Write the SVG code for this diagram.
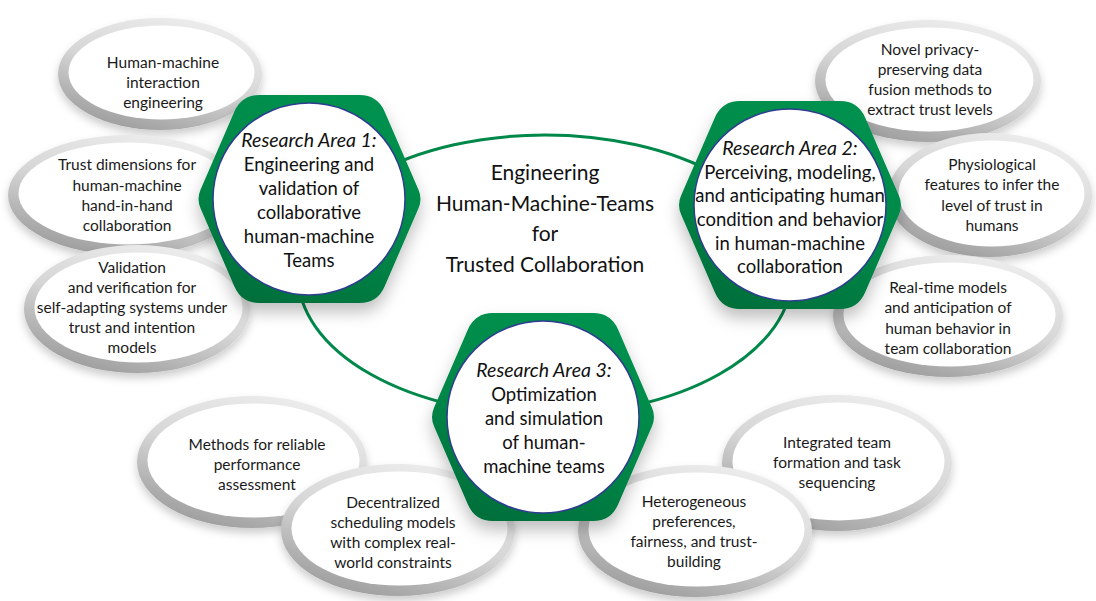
<svg xmlns="http://www.w3.org/2000/svg" width="1096" height="601" viewBox="0 0 1096 601">
  <defs>
    <linearGradient id="ringGrad" x1="0.75" y1="0" x2="0.25" y2="1">
      <stop offset="0" stop-color="#eeeeee"/>
      <stop offset="0.5" stop-color="#d6d6d6"/>
      <stop offset="1" stop-color="#9a9a9a"/>
    </linearGradient>
    <linearGradient id="hexGrad" x1="0.7" y1="0" x2="0.3" y2="1">
      <stop offset="0" stop-color="#00914f"/>
      <stop offset="0.55" stop-color="#008748"/>
      <stop offset="1" stop-color="#006f3b"/>
    </linearGradient>
    <filter id="softShadow" x="-20%" y="-20%" width="140%" height="150%">
      <feDropShadow dx="0" dy="5" stdDeviation="4" flood-color="#000" flood-opacity="0.2"/>
    </filter>
    <filter id="hexShadow" x="-20%" y="-20%" width="140%" height="150%">
      <feDropShadow dx="0" dy="9" stdDeviation="8" flood-color="#000" flood-opacity="0.25"/>
    </filter>
    <!-- rounded hexagon, centred on the origin -->
    <path id="hexShape" d="M -75.1,-87.5 Q -68,-104 -50,-104 L 50,-104 Q 68,-104 75.1,-87.5 L 109,-9.2 Q 113,0 109,9.2 L 75.1,87.5 Q 68,104 50,104 L -50,104 Q -68,104 -75.1,87.5 L -109,9.2 Q -113,0 -109,-9.2 Z"/>
    <style>
      .ring { fill: url(#ringGrad); filter: url(#softShadow); }
      .hole { fill: #ffffff; }
      .hex { fill: url(#hexGrad); filter: url(#hexShadow); }
      .disc { fill: #ffffff; stroke: #2e3d8f; stroke-width: 1.5; }
      .lbl { font-family: Lato, "Liberation Sans", sans-serif; font-size: 15.5px; fill: #1a1a1a; text-anchor: middle; }
      .area { font-family: Lato, "Liberation Sans", sans-serif; font-size: 18.5px; fill: #111111; text-anchor: middle; }
      .area .it { font-style: italic; font-size: 19.5px; }
      .title { font-family: Lato, "Liberation Sans", sans-serif; font-size: 21px; fill: #111111; text-anchor: middle; }
      .link { fill: none; stroke: #00884a; stroke-width: 3; }
    </style>
  </defs>

  <rect width="1096" height="601" fill="#ffffff"/>

  <!-- connector: the ring joining the three research areas -->
  <g id="connectors">
    <ellipse class="link" cx="545" cy="275" rx="247" ry="140"/>
  </g>

  <!-- central title -->
  <g id="title">
    <text class="title" x="545" y="180">Engineering</text>
    <text class="title" x="545" y="211">Human-Machine-Teams</text>
    <text class="title" x="545" y="241">for</text>
    <text class="title" x="545" y="272">Trusted Collaboration</text>
  </g>

  <!-- topic bubbles -->
  <g id="topic-hmi">
    <ellipse class="ring" cx="160" cy="74" rx="102" ry="56"/>
    <ellipse class="hole" cx="161.5" cy="72.5" rx="93" ry="47"/>
    <text class="lbl" x="163" y="68">Human-machine</text>
    <text class="lbl" x="163" y="88">interaction</text>
    <text class="lbl" x="163" y="108">engineering</text>
  </g>
  <g id="topic-trust-dimensions">
    <ellipse class="ring" cx="127" cy="195" rx="119" ry="60"/>
    <ellipse class="hole" cx="128.5" cy="193.5" rx="110" ry="51"/>
    <text class="lbl" x="127" y="170">Trust dimensions for</text>
    <text class="lbl" x="127" y="191">human-machine</text>
    <text class="lbl" x="127" y="211">hand-in-hand</text>
    <text class="lbl" x="127" y="231">collaboration</text>
  </g>
  <g id="topic-validation">
    <ellipse class="ring" cx="137" cy="309" rx="113" ry="64"/>
    <ellipse class="hole" cx="138.5" cy="307.5" rx="104" ry="55"/>
    <text class="lbl" x="132" y="273">Validation</text>
    <text class="lbl" x="132" y="293">and verification for</text>
    <text class="lbl" x="132" y="313">self-adapting systems under</text>
    <text class="lbl" x="132" y="333">trust and intention</text>
    <text class="lbl" x="132" y="353">models</text>
  </g>
  <g id="topic-privacy">
    <ellipse class="ring" cx="928" cy="81" rx="113" ry="61"/>
    <ellipse class="hole" cx="929.5" cy="79.5" rx="104" ry="52"/>
    <text class="lbl" x="930" y="55">Novel privacy-</text>
    <text class="lbl" x="930" y="75">preserving data</text>
    <text class="lbl" x="930" y="95">fusion methods to</text>
    <text class="lbl" x="930" y="115">extract trust levels</text>
  </g>
  <g id="topic-physiological">
    <ellipse class="ring" cx="990" cy="195" rx="102" ry="62"/>
    <ellipse class="hole" cx="991.5" cy="193.5" rx="93" ry="53"/>
    <text class="lbl" x="992" y="170">Physiological</text>
    <text class="lbl" x="992" y="190">features to infer the</text>
    <text class="lbl" x="992" y="211">level of trust in</text>
    <text class="lbl" x="992" y="231">humans</text>
  </g>
  <g id="topic-realtime">
    <ellipse class="ring" cx="948" cy="316" rx="115" ry="61"/>
    <ellipse class="hole" cx="949.5" cy="314.5" rx="106" ry="52"/>
    <text class="lbl" x="948" y="293">Real-time models</text>
    <text class="lbl" x="948" y="313">and anticipation of</text>
    <text class="lbl" x="948" y="334">human behavior in</text>
    <text class="lbl" x="948" y="354">team collaboration</text>
  </g>
  <g id="topic-performance">
    <ellipse class="ring" cx="252" cy="462" rx="115" ry="66"/>
    <ellipse class="hole" cx="253.5" cy="460.5" rx="106" ry="57"/>
    <text class="lbl" x="257" y="450">Methods for reliable</text>
    <text class="lbl" x="257" y="470">performance</text>
    <text class="lbl" x="257" y="490">assessment</text>
  </g>
  <g id="topic-scheduling">
    <ellipse class="ring" cx="398" cy="530" rx="117" ry="66"/>
    <ellipse class="hole" cx="399.5" cy="528.5" rx="108" ry="57"/>
    <text class="lbl" x="393" y="508">Decentralized</text>
    <text class="lbl" x="393" y="528">scheduling models</text>
    <text class="lbl" x="393" y="548">with complex real-</text>
    <text class="lbl" x="393" y="568">world constraints</text>
  </g>
  <g id="topic-team-formation">
    <ellipse class="ring" cx="837" cy="463" rx="115" ry="68"/>
    <ellipse class="hole" cx="838.5" cy="461.5" rx="106" ry="59"/>
    <text class="lbl" x="837" y="448">Integrated team</text>
    <text class="lbl" x="837" y="468">formation and task</text>
    <text class="lbl" x="837" y="488">sequencing</text>
  </g>
  <g id="topic-preferences">
    <ellipse class="ring" cx="695" cy="531" rx="117" ry="66"/>
    <ellipse class="hole" cx="696.5" cy="529.5" rx="108" ry="57"/>
    <text class="lbl" x="694" y="507">Heterogeneous</text>
    <text class="lbl" x="694" y="527">preferences,</text>
    <text class="lbl" x="694" y="547">fairness, and trust-</text>
    <text class="lbl" x="694" y="567">building</text>
  </g>

  <!-- research areas -->
  <g id="area-1">
    <use href="#hexShape" class="hex" transform="translate(309.5,199)"/>
    <circle class="disc" cx="309" cy="199" r="96"/>
    <text class="area" x="309" y="147"><tspan class="it">Research Area 1:</tspan></text>
    <text class="area" x="309" y="171">Engineering and</text>
    <text class="area" x="309" y="195">validation of</text>
    <text class="area" x="309" y="219">collaborative</text>
    <text class="area" x="309" y="243">human-machine</text>
    <text class="area" x="309" y="267">Teams</text>
  </g>
  <g id="area-2">
    <use href="#hexShape" class="hex" transform="translate(790,205)"/>
    <circle class="disc" cx="790" cy="205" r="96"/>
    <text class="area" x="790" y="155"><tspan class="it">Research Area 2:</tspan></text>
    <text class="area" x="790" y="179">Perceiving, modeling,</text>
    <text class="area" x="790" y="202">and anticipating human</text>
    <text class="area" x="790" y="226">condition and behavior</text>
    <text class="area" x="790" y="250">in human-machine</text>
    <text class="area" x="790" y="273">collaboration</text>
  </g>
  <g id="area-3">
    <use href="#hexShape" class="hex" transform="translate(543,417)"/>
    <circle class="disc" cx="543" cy="417" r="96"/>
    <text class="area" x="544" y="377"><tspan class="it">Research Area 3:</tspan></text>
    <text class="area" x="544" y="401">Optimization</text>
    <text class="area" x="544" y="425">and simulation</text>
    <text class="area" x="544" y="449">of human-</text>
    <text class="area" x="544" y="473">machine teams</text>
  </g>
</svg>
